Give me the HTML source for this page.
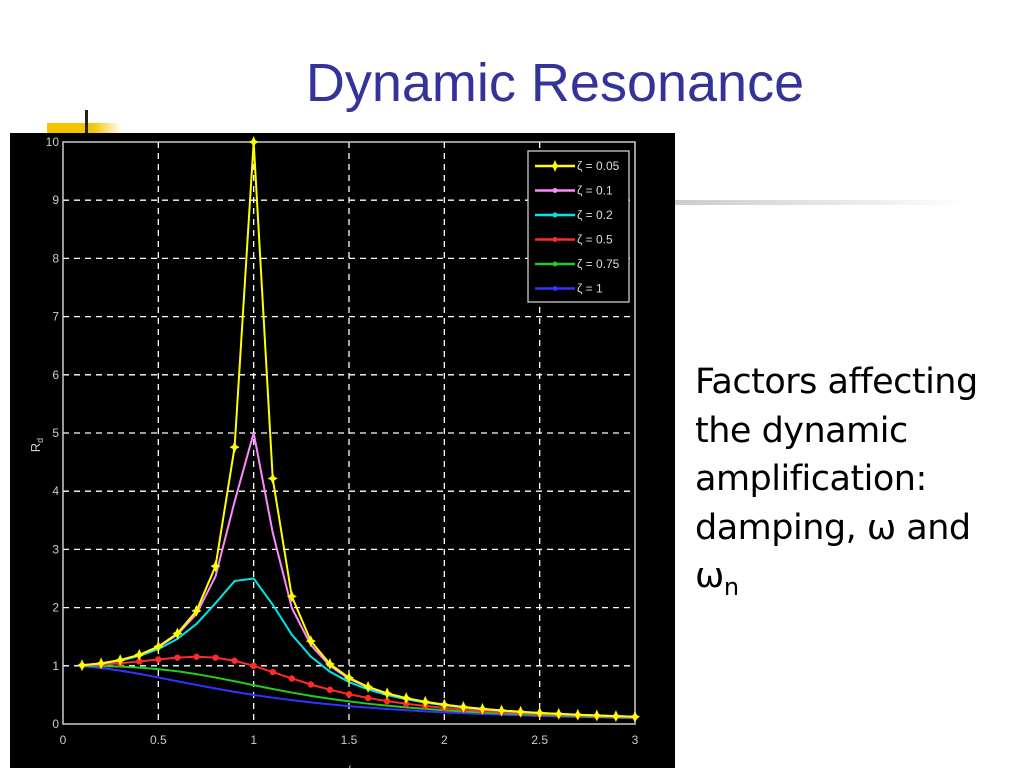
<!DOCTYPE html>
<html><head><meta charset="utf-8"><style>
body{margin:0;width:1024px;height:768px;overflow:hidden;background:#fff;font-family:"Liberation Sans",sans-serif;position:relative}
#title{position:absolute;left:0;width:1110px;top:52px;text-align:center;font-size:54px;color:#333399}
#bullet{position:absolute;left:695px;top:358px;font-size:35px;line-height:48.5px;color:#000;font-family:"DejaVu Sans","Liberation Sans",sans-serif;letter-spacing:-0.5px}
</style></head><body>
<div id="title">Dynamic Resonance</div>
<div style="position:absolute;left:47px;top:123px;width:75px;height:10px;background:linear-gradient(90deg,#f5c400 60%,#fff)"></div>
<div style="position:absolute;left:85px;top:110px;width:3px;height:23px;background:#222"></div>
<div style="position:absolute;left:675px;top:200px;width:290px;height:5px;background:linear-gradient(90deg,#ccc,#eee 70%,#fff)"></div>
<div id="bullet">Factors affecting<br>the dynamic<br>amplification:<br>damping, ω and<br>ω<sub style="font-size:24px">n</sub></div>
<svg id="chart" width="665" height="635" style="position:absolute;left:10px;top:133px" xmlns="http://www.w3.org/2000/svg"></svg>
<script>
const xs=[0.1,0.2,0.3,0.4,0.5,0.6,0.7,0.8,0.9,1.0,1.1,1.2,1.3,1.4,1.5,1.6,1.7,1.8,1.9,2.0,2.1,2.2,2.3,2.4,2.5,2.6,2.7,2.8,2.9,3.0];
const z005=[1.010,1.041,1.098,1.189,1.330,1.556,1.943,2.712,4.757,10,4.218,2.193,1.424,1.031,0.794,0.638,0.527,0.445,0.382,0.333,0.293,0.260,0.233,0.210,0.190,0.173,0.159,0.146,0.135,0.125];
const z01=[1.010,1.041,1.097,1.185,1.322,1.536,1.891,2.538,3.821,5,3.288,1.995,1.356,1.0,0.778,0.628,0.521,0.441,0.379,0.330,0.291,0.259,0.232,0.209,0.190,0.173,0.158,0.146,0.135,0.125];
const z02=[1.009,1.038,1.089,1.169,1.288,1.463,1.719,2.076,2.456,2.5,2.051,1.536,1.157,0.900,0.721,0.593,0.498,0.425,0.368,0.322,0.285,0.254,0.228,0.206,0.187,0.171,0.157,0.144,0.133,0.124];
const z05=[1.005,1.020,1.044,1.075,1.109,1.140,1.155,1.140,1.087,1.0,0.893,0.782,0.679,0.589,0.512,0.447,0.393,0.348,0.310,0.277,0.250,0.226,0.205,0.188,0.172,0.158,0.146,0.135,0.126,0.117];
const z075=[0.999,0.994,0.985,0.969,0.943,0.906,0.857,0.798,0.734,0.667,0.601,0.540,0.483,0.433,0.389,0.349,0.315,0.285,0.259,0.236,0.215,0.197,0.182,0.168,0.155,0.144,0.134,0.125,0.116,0.109];
const z1=[0.990,0.962,0.917,0.862,0.800,0.735,0.671,0.610,0.552,0.5,0.452,0.410,0.372,0.338,0.308,0.281,0.257,0.236,0.217,0.2,0.185,0.171,0.159,0.148,0.138,0.129,0.121,0.113,0.106,0.1];
const xTicks=["0","0.5","1","1.5","2","2.5","3"];
const yTicks=["0","1","2","3","4","5","6","7","8","9","10"];
const legendLabels=["ζ = 0.05","ζ = 0.1","ζ = 0.2","ζ = 0.5","ζ = 0.75","ζ = 1"];

const svg=document.getElementById('chart');
const NS='http://www.w3.org/2000/svg';
const L=53,R=625,T=9,B=591;
function sx(v){return L+(v-0)/3*(R-L);}
function sy(v){return B-(v/10)*(B-T);}
function mk(tag,attrs,parent){const e=document.createElementNS(NS,tag);for(const k in attrs)e.setAttribute(k,attrs[k]);(parent||svg).appendChild(e);return e;}
const bg=mk('rect',{x:0,y:0,width:665,height:635,fill:'#000'});


// grid
xTicks.forEach(t=>{const v=parseFloat(t);const x=sx(v);
 if(v>0&&v<3){const g=mk('line',{x1:x,x2:x,y1:T,y2:B,stroke:'#fff','stroke-width':1.3,'stroke-dasharray':'6,5'});
 
 }
 const tx=mk('text',{x:x,y:B+20,fill:'#ccc','font-size':12,'text-anchor':'middle','font-family':'Liberation Sans Narrow,Liberation Sans,sans-serif'});tx.textContent=t;
 
 
});
yTicks.forEach(t=>{const v=parseFloat(t);const y=sy(v);
 if(v>0&&v<10){const g=mk('line',{x1:L,x2:R,y1:y,y2:y,stroke:'#fff','stroke-width':1.3,'stroke-dasharray':'6,5'});
 
 }
 const tx=mk('text',{x:L-4,y:y+4,fill:'#ccc','font-size':12,'text-anchor':'end','font-family':'Liberation Sans Narrow,Liberation Sans,sans-serif'});tx.textContent=t;
 
 
});
const box=mk('rect',{x:L,y:T,width:R-L,height:B-T,fill:'none',stroke:'#ccc','stroke-width':1.5});


const yl=mk('text',{x:0,y:0,fill:'#ccc','font-size':13,transform:'translate(30,312) rotate(-90)','text-anchor':'middle'});yl.innerHTML='R<tspan font-size="9" dy="3">d</tspan>';


const xl=mk('text',{x:339,y:642,fill:'#ccc','font-size':13,'text-anchor':'middle'});xl.textContent='ω / ω';


function star(g,x,y,c){const p=mk('path',{d:`M${x} ${y-6}L${x+1.8} ${y-1.8}L${x+5} ${y}L${x+1.8} ${y+1.8}L${x} ${y+6}L${x-1.8} ${y+1.8}L${x-5} ${y}L${x-1.8} ${y-1.8}Z`,fill:c},g);}
const series=[
 {d:z005,c:'#ffff00',m:'star',n:'series-zeta-0.05'},
 {d:z01,c:'#ff88ff',m:null,n:'series-zeta-0.1'},
 {d:z02,c:'#00e5e5',m:null,n:'series-zeta-0.2'},
 {d:z05,c:'#ff2a2a',m:'dot',n:'series-zeta-0.5'},
 {d:z075,c:'#22cc22',m:null,n:'series-zeta-0.75'},
 {d:z1,c:'#3333ff',m:null,n:'series-zeta-1'}];
const drawOrder=[5,4,3,2,1,0];
drawOrder.forEach(i=>{const s=series[i];
 const g=mk('g',{});
 
 
 const pts=xs.map((x,j)=>sx(x)+','+sy(s.d[j])).join(' ');
 mk('polyline',{points:pts,fill:'none',stroke:s.c,'stroke-width':2},g);
 if(s.m==='star')xs.forEach((x,j)=>star(g,sx(x),sy(s.d[j]),s.c));
 if(s.m==='dot')xs.forEach((x,j)=>{const c=mk('circle',{cx:sx(x),cy:sy(s.d[j]),r:3.2,fill:s.c},g);});
});
// legend
const lg=mk('g',{});


mk('rect',{x:518,y:18,width:101,height:151,fill:'#000',stroke:'#ddd','stroke-width':1.2},lg);
legendLabels.forEach((t,i)=>{const y=33+i*24.5;const s=series[i];
 const e=mk('g',{},lg);
 
 
 mk('line',{x1:525,x2:565,y1:y,y2:y,stroke:s.c,'stroke-width':2.5},e);
 if(i===0)star(e,545,y,s.c);else mk('circle',{cx:545,cy:y,r:2.5,fill:s.c},e);
 const tx=mk('text',{x:567,y:y+4,fill:'#ddd','font-size':12,'font-family':'Liberation Sans Narrow,Liberation Sans,sans-serif'},e);tx.textContent=t;
});
</script>
</body></html>
